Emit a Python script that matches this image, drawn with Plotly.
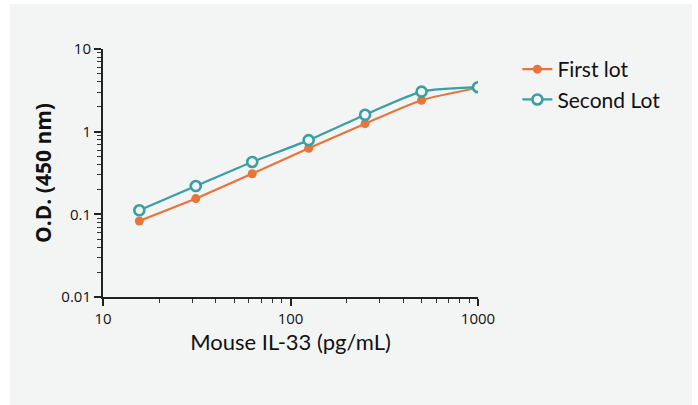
import plotly.graph_objects as go

conc = [15.625, 31.25, 62.5, 125, 250, 500, 1000]
first_lot = [0.083, 0.155, 0.31, 0.63, 1.25, 2.4, 3.4]
second_lot = [0.112, 0.22, 0.43, 0.79, 1.6, 3.05, 3.45]
x_ticks = [10, 100, 1000]
y_ticks = [0.01, 0.1, 1, 10]
y_ticklabels = ["0.01", "0.1", "1", "10"]
x_minor = [m * d for d in (10, 100) for m in range(2, 10)]
y_minor = [m * d for d in (0.01, 0.1, 1) for m in range(2, 10)]

ORANGE = "#E8743B"
TEAL = "#3A9EA5"
PANEL = "#f3f5f4"

fig = go.Figure()
fig.add_trace(go.Scatter(
    x=conc, y=first_lot, name="First lot", mode="lines+markers",
    line=dict(color=ORANGE, width=2.2, shape="spline", smoothing=0.6),
    marker=dict(color=ORANGE, size=9, symbol="circle"),
))
fig.add_trace(go.Scatter(
    x=conc, y=second_lot, name="Second Lot", mode="lines+markers",
    line=dict(color=TEAL, width=2.2, shape="spline", smoothing=0.6),
    marker=dict(color=PANEL, size=10, symbol="circle",
                line=dict(color=TEAL, width=2.6)),
))

L, R, T, B = 103, 220, 49, 108
W, H = 698, 405
pw, ph = W - L - R, H - T - B

fig.add_shape(type="rect", xref="paper", yref="paper",
              x0=(10 - L) / pw, x1=(692 - L) / pw,
              y0=(H - B - 405) / ph, y1=(H - B - 4) / ph,
              fillcolor=PANEL, line=dict(width=0), layer="below")

axis_common = dict(
    type="log", showgrid=False, zeroline=False, showline=True,
    linecolor="#222222", linewidth=2, ticks="outside", ticklen=7,
    tickwidth=1.5, tickcolor="#222222",
    tickfont=dict(family="Open Sans", size=15, color="#111111"),
)

fig.update_layout(
    width=W, height=H,
    margin=dict(l=L, r=R, t=T, b=B, autoexpand=False),
    paper_bgcolor="white", plot_bgcolor="rgba(0,0,0,0)",
    xaxis=dict(axis_common, range=[1, 3], tickmode="array", tickvals=x_ticks,
               ticktext=[str(v) for v in x_ticks],
               minor=dict(tickmode="array", tickvals=x_minor, ticks="outside",
                          ticklen=4, tickwidth=1, tickcolor="#333333", showgrid=False),
               title=dict(text="Mouse IL-33 (pg/mL)", standoff=8,
                          font=dict(family="Lato", size=22, color="#111111"))),
    yaxis=dict(axis_common, range=[-2, 1], tickmode="array", tickvals=y_ticks,
               ticktext=y_ticklabels,
               minor=dict(tickmode="array", tickvals=y_minor, ticks="outside",
                          ticklen=4, tickwidth=1, tickcolor="#333333", showgrid=False),
               title=dict(text="<b>O.D. (450 nm)</b>", standoff=4,
                          font=dict(family="Open Sans", size=21, color="#111111"))),
    legend=dict(x=1.105, y=1.0, xanchor="left", yanchor="top",
                bgcolor="rgba(0,0,0,0)",
                font=dict(family="Lato", size=21, color="#111111"),
                itemwidth=30, tracegroupgap=0),
    showlegend=True,
)

fig.write_html(
    "out.html",
    config={"displayModeBar": False},
    post_script="document.body.style.margin='0';document.body.style.overflow='hidden';",
)
